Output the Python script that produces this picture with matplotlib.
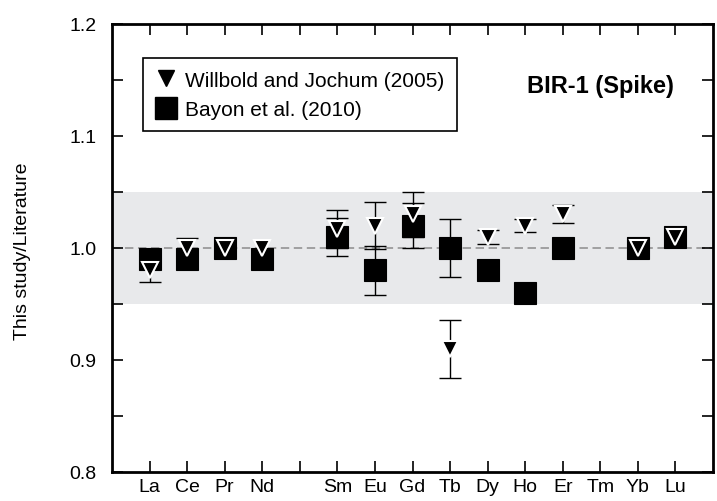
import matplotlib
matplotlib.use("Agg")
import matplotlib.pyplot as plt
import numpy as np
from matplotlib.lines import Line2D
from matplotlib.ticker import MultipleLocator, FormatStrFormatter

plt.rcParams['font.family'] = ['Liberation Sans', 'DejaVu Sans']

# REE order along the x axis (Pm slot left empty)
tick_labels = ['La', 'Ce', 'Pr', 'Nd', '', 'Sm', 'Eu', 'Gd', 'Tb', 'Dy', 'Ho', 'Er', 'Tm', 'Yb', 'Lu']
positions = np.arange(1, len(tick_labels) + 1)

# Ratio of this study to Willbold and Jochum (2005)
wj_ratio = [0.98, 1.00, 1.00, 1.00, np.nan, 1.017, 1.02, 1.03, 0.91, 1.01, 1.02, 1.03, np.nan, 1.00, 1.01]
wj_err = [0.01, 0.009, 0.0, 0.0, 0.0, 0.017, 0.021, 0.02, 0.026, 0.006, 0.006, 0.008, 0.0, 0.009, 0.0]

# Ratio of this study to Bayon et al. (2010)
bay_ratio = [0.99, 0.99, 1.00, 0.99, np.nan, 1.01, 0.98, 1.02, 1.00, 0.98, 0.96, 1.00, np.nan, 1.00, 1.01]
bay_err = [0.0, 0.0, 0.0, 0.0, 0.0, 0.017, 0.022, 0.02, 0.026, 0.0, 0.0, 0.0, 0.0, 0.0, 0.0]

wj_ratio = np.array(wj_ratio)
wj_err = np.array(wj_err)
bay_ratio = np.array(bay_ratio)
bay_err = np.array(bay_err)

fig = plt.figure(figsize=(7.17, 5.02), dpi=100)
ax = fig.add_axes([112 / 717, 1 - 473 / 502, 601 / 717, 448 / 502])

# +/- 5 % band and unity line
ax.axhspan(0.95, 1.05, color='#e8e9eb', lw=0, zorder=0)
ax.axhline(1.0, color='#8c8c8c', lw=1.1, ls=(0, (5.5, 3)), zorder=1)

# Bayon et al. squares with error bars
m = bay_err > 0
ax.errorbar(positions[m], bay_ratio[m], yerr=bay_err[m], fmt='none', ecolor='black',
            elinewidth=1.0, capsize=8, capthick=1.0, zorder=2)
ax.plot(positions, bay_ratio, 's', ms=15.5, mfc='black', mec='black', mew=0.8, zorder=3)

# Willbold and Jochum triangles with error bars
m = wj_err > 0
ax.errorbar(positions[m], wj_ratio[m], yerr=wj_err[m], fmt='none', ecolor='black',
            elinewidth=1.0, capsize=8, capthick=1.0, zorder=4)
ax.plot(positions, wj_ratio, 'v', ms=12, mfc='black', mec='white', mew=1.5, zorder=5)

ax.set_xlim(0, 16)
ax.set_ylim(0.8, 1.2)
ax.set_xticks(positions)
ax.set_xticklabels(tick_labels)
ax.yaxis.set_major_locator(MultipleLocator(0.1))
ax.yaxis.set_minor_locator(MultipleLocator(0.05))
ax.yaxis.set_major_formatter(FormatStrFormatter('%.1f'))
ax.tick_params(which='both', direction='in', top=True, right=True, length=8, width=1.2,
               labelsize=14)
ax.tick_params(axis='x', pad=4)
ax.tick_params(axis='y', pad=11)
for sp in ax.spines.values():
    sp.set_linewidth(2)

fig.text(23 / 717, 1 - 251 / 502, 'This study/Literature', rotation=90,
         ha='center', va='center', fontsize=14)

ax.text(0.935, 0.848, 'BIR-1 (Spike)', transform=ax.transAxes, ha='right',
        va='baseline', fontsize=17, fontweight='bold')

handles = [
    Line2D([], [], ls='none', marker='v', ms=12, mfc='black', mec='black',
           label='Willbold and Jochum (2005)'),
    Line2D([], [], ls='none', marker='s', ms=15.5, mfc='black', mec='black',
           label='Bayon et al. (2010)'),
]
leg = ax.legend(handles=handles, loc='upper left', bbox_to_anchor=(0.052, 0.924),
                frameon=True, fancybox=False, edgecolor='black', fontsize=15,
                borderaxespad=0, handlelength=1.0, handletextpad=0.4,
                borderpad=0.6, labelspacing=0.5, framealpha=1)
leg.get_frame().set_linewidth(1.2)

fig.savefig('out.png', dpi=100)
